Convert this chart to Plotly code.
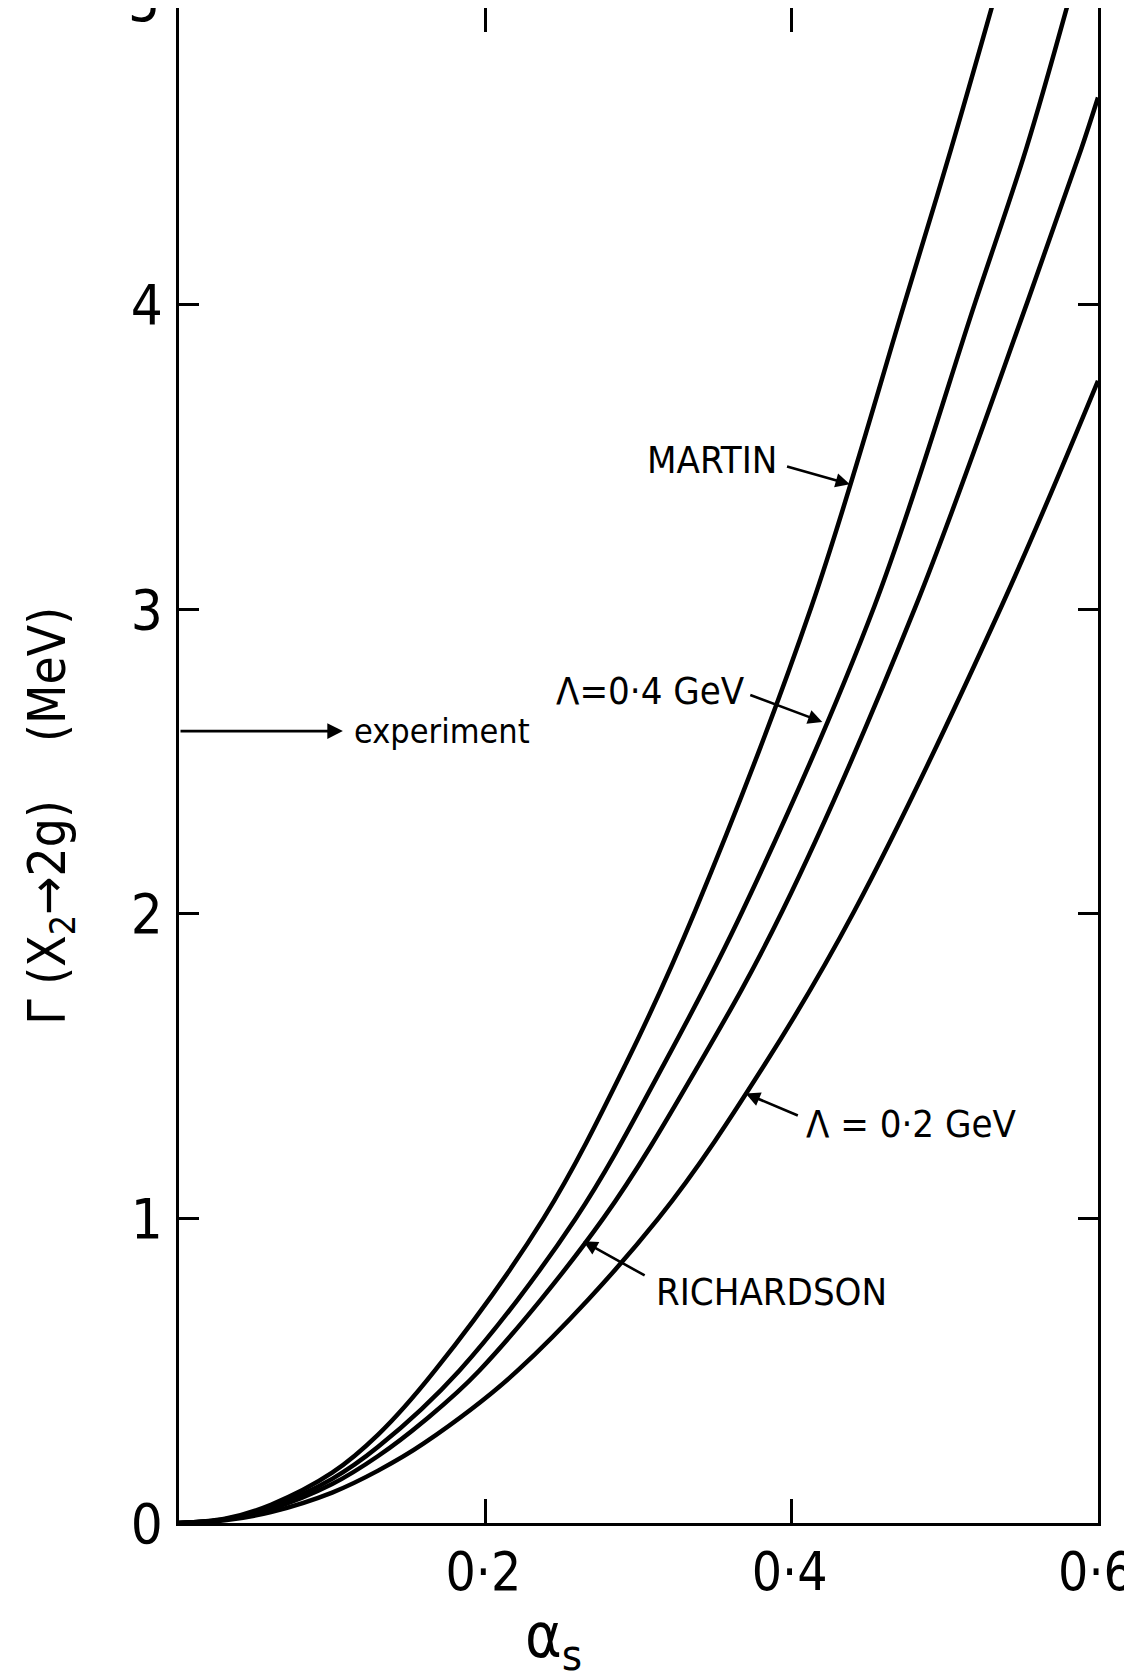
import plotly.graph_objects as go

# ---- data ----
alpha_martin = [0.0, 0.03, 0.06, 0.10, 0.13, 0.167, 0.238, 0.292, 0.337, 0.413, 0.474, 0.504, 0.532]
gamma_martin = [0.0, 0.014, 0.060, 0.165, 0.29, 0.50, 1.0, 1.51, 2.01, 3.01, 4.01, 4.51, 5.0]

alpha_l04 = [0.0, 0.03, 0.06, 0.10, 0.13, 0.183, 0.259, 0.317, 0.368, 0.454, 0.520, 0.553, 0.581]
gamma_l04 = [0.0, 0.012, 0.052, 0.145, 0.25, 0.50, 1.0, 1.51, 2.01, 3.01, 4.01, 4.51, 5.0]

alpha_rich = [0.0, 0.03, 0.06, 0.10, 0.13, 0.16, 0.196, 0.277, 0.340, 0.394, 0.481, 0.554, 0.589, 0.60]
gamma_rich = [0.0, 0.011, 0.046, 0.128, 0.22, 0.335, 0.50, 1.0, 1.51, 2.01, 3.01, 4.01, 4.51, 4.68]

alpha_l02 = [0.0, 0.03, 0.06, 0.10, 0.13, 0.16, 0.221, 0.313, 0.383, 0.441, 0.537, 0.60]
gamma_l02 = [0.0, 0.009, 0.036, 0.10, 0.172, 0.262, 0.50, 1.0, 1.51, 2.01, 3.01, 3.75]

experiment_value = 2.6

x_tickvals = [0.2, 0.4, 0.6]
x_ticktext = ["0·2", "0·4", "0·6"]
y_tickvals = [0, 1, 2, 3, 4]
y_ticktext = ["0", "1", "2", "3", "4"]

# labels: (text, text_x, text_y, tail_x, tail_y, tip_x, tip_y)
labels = [
    ("MARTIN", 0.348, 3.49, 0.396, 3.47, 0.438, 3.41),
    ("Λ=0·4 GeV", 0.308, 2.73, 0.372, 2.72, 0.420, 2.63),
    ("Λ = 0·2 GeV", 0.478, 1.31, 0.405, 1.336, 0.370, 1.41),
    ("RICHARDSON", 0.387, 0.76, 0.305, 0.81, 0.264, 0.925),
]

FONT = "DejaVu Sans Condensed, Liberation Sans Narrow, DejaVu Sans, sans-serif"

fig = go.Figure()
for xs, ys in [(alpha_martin, gamma_martin), (alpha_l04, gamma_l04),
               (alpha_rich, gamma_rich), (alpha_l02, gamma_l02)]:
    fig.add_trace(go.Scatter(x=xs, y=ys, mode="lines",
                             line=dict(color="black", width=4.5, shape="spline", smoothing=1.0),
                             showlegend=False, hoverinfo="skip", cliponaxis=True))

for text, tx, ty, ax_, ay_, px, py in labels:
    fig.add_annotation(x=tx, y=ty, xref="x", yref="y", text=text, showarrow=False,
                       font=dict(family=FONT, size=38, color="black"),
                       xanchor="center", yanchor="middle")
    fig.add_annotation(x=px, y=py, ax=ax_, ay=ay_, xref="x", yref="y",
                       axref="x", ayref="y", text="", showarrow=True,
                       arrowhead=2, arrowsize=1.1, arrowwidth=2.6, arrowcolor="black",
                       standoff=0, startstandoff=0)

# experiment arrow
fig.add_annotation(x=0.107, y=experiment_value, ax=0.0, ay=experiment_value,
                   xref="x", yref="y", axref="x", ayref="y", text="", showarrow=True,
                   arrowhead=2, arrowsize=1.2, arrowwidth=2.6, arrowcolor="black",
                   standoff=0, startstandoff=0)
fig.add_annotation(x=0.113, y=experiment_value, xref="x", yref="y", text="experiment",
                   showarrow=False, xanchor="left", yanchor="middle",
                   font=dict(family=FONT, size=34, color="black"))

# the top "5" label, mostly outside the page as in the reference
fig.add_annotation(x=-0.018, y=1.004, xref="paper", yref="paper", text="5", showarrow=False,
                   xanchor="right", yanchor="middle",
                   font=dict(family=FONT, size=56, color="black"))

# axis titles
fig.add_annotation(x=-0.139, y=0.467, xref="paper", yref="paper",
                   text="Γ (X<sub>2</sub>→2g)    (MeV)", textangle=-90, showarrow=False,
                   xanchor="center", yanchor="middle",
                   font=dict(family=FONT, size=51, color="black"))
fig.add_annotation(x=0.408, y=-0.077, xref="paper", yref="paper",
                   text="α<sub>s</sub>", showarrow=False,
                   xanchor="center", yanchor="middle",
                   font=dict(family=FONT, size=62, color="black"))

axis_common = dict(showgrid=False, zeroline=False, showline=True, linecolor="black",
                   linewidth=3, mirror="ticks", ticks="inside", tickcolor="black",
                   tickwidth=2.5, automargin=False, ticklabeloverflow="allow")

fig.update_xaxes(range=[0, 0.6], tickvals=x_tickvals, ticktext=x_ticktext,
                 ticklen=24, ticklabelstandoff=0, ticklabelshift=-2,
                 tickfont=dict(family=FONT, size=53, color="black"), **axis_common)
fig.update_yaxes(range=[0, 4.974], tickvals=y_tickvals, ticktext=y_ticktext,
                 ticklen=20, ticklabelstandoff=2,
                 tickfont=dict(family=FONT, size=56, color="black"), **axis_common)

fig.update_layout(width=1132, height=1672,
                  margin=dict(l=171, r=42, t=0, b=157),
                  paper_bgcolor="white", plot_bgcolor="white",
                  font=dict(family=FONT, color="black"))

fig.write_html("out.html", config={"displayModeBar": False})
